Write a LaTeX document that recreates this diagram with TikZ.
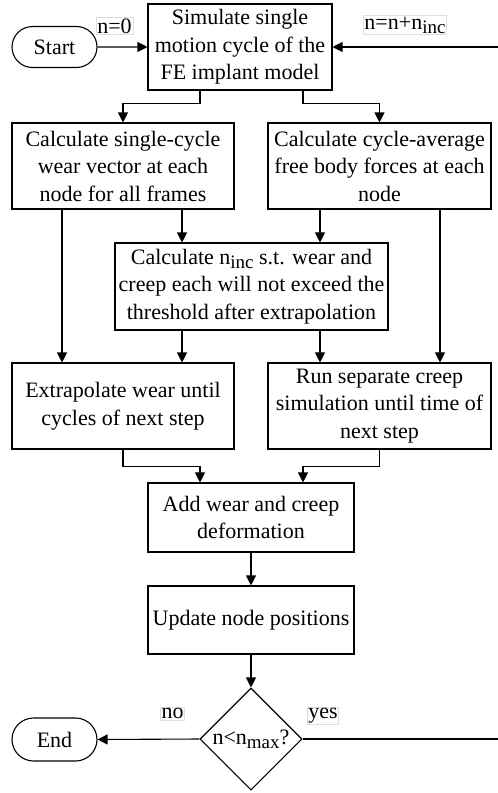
\documentclass[tikz,border=0pt]{standalone}
\usepackage{fontspec}
\setmainfont{Liberation Serif}
\usetikzlibrary{arrows.meta,shapes.misc,shapes.geometric}
\newcommand{\sbs}[1]{\raisebox{-0.4ex}{\fontsize{19}{19}\selectfont #1}}
\begin{document}
\begin{tikzpicture}[x=1pt,y=-1pt,
  font=\fontsize{22}{27.5}\selectfont,
  proc/.style={draw,line width=1.1pt,rectangle,inner sep=0pt,align=center},
  term/.style={draw,line width=1.1pt,rounded rectangle,inner sep=0pt,minimum width=85pt},
  lbl/.style={draw=gray!25,line width=0.4pt,inner sep=1pt},
  arr/.style={line width=1.1pt,-{Triangle[length=10pt,width=10pt]}},
  ln/.style={line width=1.1pt}]
\useasboundingbox (0,0) rectangle (498,793);
\node[term,minimum height=41pt] (start) at (54.5,47) {Start};
\node[proc,minimum width=184pt,minimum height=86pt] (sim) at (240,47) {Simulate single\\motion cycle of the\\FE implant model};
\node[proc,minimum width=222pt,minimum height=86pt] (wearv) at (123,166) {Calculate single-cycle\\wear vector at each\\node for all frames};
\node[proc,minimum width=223pt,minimum height=86pt] (force) at (379.5,166) {Calculate cycle-average\\free body forces at each\\node};
\node[proc,minimum width=273pt,minimum height=87pt] (ninc) at (251.5,286.5) {Calculate n\sbs{inc} s.t. wear and\\creep each will not exceed the\\threshold after extrapolation};
\node[proc,minimum width=222pt,minimum height=86pt] (extra) at (123,406) {Extrapolate wear until\\cycles of next step};
\node[proc,minimum width=223pt,minimum height=86pt] (creep) at (379.5,406) {Run separate creep\\simulation until time of\\next step};
\node[proc,minimum width=206pt,minimum height=69pt] (add) at (251,517.5) {Add wear and creep\\deformation};
\node[proc,minimum width=206pt,minimum height=68pt] (upd) at (251,620) {Update node positions};
\node[draw,line width=1.1pt,diamond,inner sep=0pt,minimum width=102pt,minimum height=102pt] (dec) at (251,739) {\makebox[0pt]{n<n\sbs{max}?}};
\node[term,minimum height=43pt] (endn) at (54.5,739.5) {End};
\coordinate (rin) at (498,47);
\coordinate (rout) at (498,739);
\node[lbl] (l0) at (114.5,26) {n=0};
\node[lbl] (l1) at (405,25) {n=n+n\sbs{inc}};
\node[lbl] (lno) at (172.5,713.5) {no};
\node[lbl] (lyes) at (323,715.5) {yes};
\draw[arr] (start) -- (sim);
\draw[arr] (rin) -- (sim.east);
\draw[arr] ([xshift=-40pt]sim.south) -- ++(0,13) -| (wearv.north);
\draw[arr] ([xshift=63pt]sim.south) -- ++(0,13) -| (force.north);
\draw[arr] ([xshift=-61pt]wearv.south) -- ([xshift=-61pt]wearv.south |- extra.north);
\draw[arr] ([xshift=59pt]wearv.south) -- ([xshift=59pt]wearv.south |- ninc.north);
\draw[arr] ([xshift=-59.5pt]force.south) -- ([xshift=-59.5pt]force.south |- ninc.north);
\draw[arr] ([xshift=60.5pt]force.south) -- ([xshift=60.5pt]force.south |- creep.north);
\draw[arr] ([xshift=-69.5pt]ninc.south) -- ([xshift=-69.5pt]ninc.south |- extra.north);
\draw[arr] ([xshift=68.5pt]ninc.south) -- ([xshift=68.5pt]ninc.south |- creep.north);
\draw[arr] (extra.south) -- ++(0,17) -| ([xshift=-51pt]add.north);
\draw[arr] (creep.south) -- ++(0,17) -| ([xshift=52pt]add.north);
\draw[arr] (add) -- (upd);
\draw[arr] (upd) -- (dec);
\draw[arr] (dec.west) -- (endn.east);
\draw[ln] (dec.east) -- (rout);
\end{tikzpicture}
\end{document}
